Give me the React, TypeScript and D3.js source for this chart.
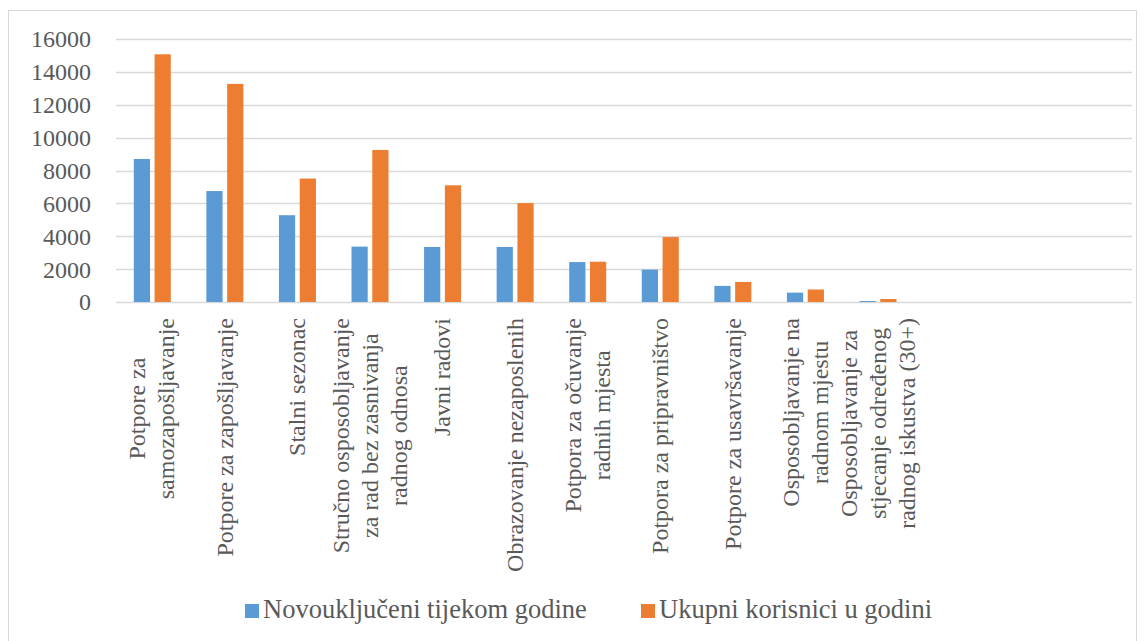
import { useEffect, useRef } from "react";
import * as d3 from "d3";

// category labels (already broken into lines), 3 empty slots at the end
const categories: string[][] = [
  ["Potpore za", "samozapošljavanje"],
  ["Potpore za zapošljavanje"],
  ["Stalni sezonac"],
  ["Stručno osposobljavanje", "za rad bez zasnivanja", "radnog odnosa"],
  ["Javni radovi"],
  ["Obrazovanje nezaposlenih"],
  ["Potpora za očuvanje", "radnih mjesta"],
  ["Potpora za pripravništvo"],
  ["Potpore za usavršavanje"],
  ["Osposobljavanje na", "radnom mjestu"],
  ["Osposobljavanje za", "stjecanje određenog", "radnog iskustva (30+)"],
  [],
  [],
  [],
];

const novoukljuceni = [8700, 6750, 5280, 3370, 3350, 3350, 2430, 1970, 980, 570, 60];
const ukupni = [15070, 13270, 7510, 9250, 7100, 6020, 2450, 3950, 1220, 760, 180];

const seriesNames = ["Novouključeni tijekom godine", "Ukupni korisnici u godini"];
const seriesColors = ["#5b9bd5", "#ed7d31"];
const yTicks = [0, 2000, 4000, 6000, 8000, 10000, 12000, 14000, 16000];

const FONT = "Liberation Serif, DejaVu Serif, Times New Roman, serif";
const TEXT = "#595959";
const GRID = "#d9d9d9";

export default function App() {
  const svgRef = useRef<SVGSVGElement>(null);

  useEffect(() => {
    document.body.style.margin = "0";
    const el = svgRef.current;
    if (!el) return;
    const svg = d3.select(el);
    svg.selectAll("*").remove();

    const left = 116;
    const right = 1132;
    const top = 39;
    const bottom = 302;

    // outer frame
    svg
      .append("rect")
      .attr("x", 8.5)
      .attr("y", 10.5)
      .attr("width", 1128)
      .attr("height", 640)
      .attr("fill", "#fff")
      .attr("stroke", GRID)
      .attr("stroke-width", 1);

    const x0 = d3
      .scaleBand<number>()
      .domain(d3.range(categories.length))
      .range([left, right])
      .padding(0);
    const groupW = 37;
    const x1 = d3
      .scaleBand<number>()
      .domain([0, 1])
      .range([0, groupW])
      .paddingInner(0.22);
    const y = d3.scaleLinear().domain([0, 16000]).range([bottom, top]);

    // grid
    svg
      .append("g")
      .selectAll("line")
      .data(yTicks)
      .enter()
      .append("line")
      .attr("x1", left)
      .attr("x2", right)
      .attr("y1", (d) => Math.round(y(d)) + 0.5)
      .attr("y2", (d) => Math.round(y(d)) + 0.5)
      .attr("stroke", GRID)
      .attr("stroke-width", (d) => (d === 0 ? 1.5 : 1.3));

    // y tick labels
    svg
      .append("g")
      .selectAll("text")
      .data(yTicks)
      .enter()
      .append("text")
      .attr("x", 91)
      .attr("y", (d) => y(d))
      .attr("dy", "0.35em")
      .attr("text-anchor", "end")
      .attr("fill", TEXT)
      .attr("font-family", FONT)
      .attr("font-size", 24)
      .text((d) => String(d));

    // bars
    const series = [novoukljuceni, ukupni];
    series.forEach((vals, si) => {
      svg
        .append("g")
        .selectAll("rect")
        .data(vals)
        .enter()
        .append("rect")
        .attr("x", (_, i) => (x0(i) as number) + (x0.bandwidth() - groupW) / 2 + (x1(si) as number))
        .attr("width", x1.bandwidth())
        .attr("y", (d) => y(d))
        .attr("height", (d) => y(0) - y(d))
        .attr("fill", seriesColors[si]);
    });

    // category labels, rotated, centered block hanging from the axis
    const lineH = 29;
    categories.forEach((lines, i) => {
      if (!lines.length) return;
      const cx = (x0(i) as number) + x0.bandwidth() / 2;
      const g = svg.append("g").attr("transform", `translate(${cx},318) rotate(-90)`);
      const texts = lines.map((t, li) =>
        g
          .append("text")
          .attr("y", (li - (lines.length - 1) / 2) * lineH)
          .attr("dy", "0.32em")
          .attr("text-anchor", "middle")
          .attr("fill", TEXT)
          .attr("font-family", FONT)
          .attr("font-size", 24)
          .text(t)
      );
      const maxLen = d3.max(texts, (t) => (t.node() as SVGTextElement).getComputedTextLength()) || 0;
      texts.forEach((t) => t.attr("x", -maxLen / 2));
    });

    // legend
    const legend = svg.append("g");
    const items = [
      { sx: 245, tx: 263 },
      { sx: 641, tx: 659 },
    ];
    seriesNames.forEach((name, i) => {
      legend
        .append("rect")
        .attr("x", items[i].sx)
        .attr("y", 604)
        .attr("width", 14)
        .attr("height", 14)
        .attr("fill", seriesColors[i]);
      legend
        .append("text")
        .attr("x", items[i].tx)
        .attr("y", 618)
        .attr("fill", TEXT)
        .attr("font-family", FONT)
        .attr("font-size", 26.5)
        .text(name);
    });
  }, []);

  return <svg ref={svgRef} width={1146} height={641} style={{ display: "block" }} />;
}
